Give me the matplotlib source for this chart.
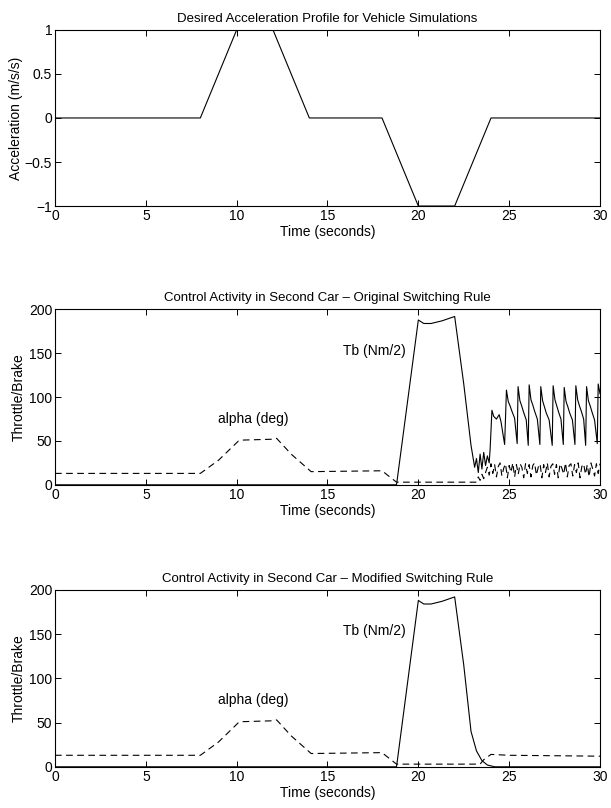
import matplotlib
matplotlib.use("Agg")
import matplotlib.pyplot as plt

plt.rcParams["font.family"] = ["Liberation Sans", "DejaVu Sans"]
plt.rcParams["font.size"] = 10

# ---- panel 1: desired acceleration profile ----
acc_t = [0, 8, 10, 12, 14, 18, 20, 22, 24, 30]
acc_v = [0, 0, 1, 1, 0, 0, -1, -1, 0, 0]

# ---- panel 2: original switching rule ----
alpha1_t = [0, 8.0, 9.0, 10.1, 10.3, 12.0, 12.2, 13.0, 14.1, 18.0, 18.8, 23.2,
            23.3, 23.4, 23.5, 23.6, 23.7, 23.8, 23.9,
            24.0, 24.1, 24.2, 24.3, 24.4, 24.5, 24.6, 24.7, 24.8, 24.9,
            25.0, 25.1, 25.2, 25.3, 25.4, 25.5, 25.6, 25.7, 25.8, 25.9,
            26.0, 26.1, 26.2, 26.3, 26.4, 26.5, 26.6, 26.7, 26.8, 26.9,
            27.0, 27.1, 27.2, 27.3, 27.4, 27.5, 27.6, 27.7, 27.8, 27.9,
            28.0, 28.1, 28.2, 28.3, 28.4, 28.5, 28.6, 28.7, 28.8, 28.9,
            29.0, 29.1, 29.2, 29.3, 29.4, 29.5, 29.6, 29.7, 29.8, 29.9, 30.0]
alpha1_v = [13, 13, 28, 50, 51, 52, 53, 35, 15, 16, 3, 3,
            9, 5, 12, 7, 14, 20, 11,
            24, 13, 23, 9, 21, 25, 10, 19, 24, 8,
            22, 14, 25, 9, 23, 12, 24, 20, 8, 24,
            13, 23, 9, 22, 25, 11, 20, 24, 8, 23,
            14, 25, 9, 21, 24, 12, 23, 8, 24, 19,
            12, 25, 9, 22, 24, 10, 23, 14, 25, 8,
            21, 24, 12, 23, 9, 25, 18, 10, 24, 13, 24]

tb1_t = [0, 18.8, 20.0, 20.3, 20.7, 21.3, 22.0, 22.5, 22.9, 23.1, 23.2, 23.3,
         23.4, 23.5, 23.6, 23.7, 23.8, 23.9, 23.95, 24.0, 24.05, 24.15, 24.3,
         24.45, 24.55, 24.75,
         24.85, 24.95, 25.05, 25.15, 25.3, 25.44,
         25.49, 25.59, 25.69, 25.79, 25.94, 26.05,
         26.10, 26.20, 26.30, 26.40, 26.55, 26.69,
         26.74, 26.84, 26.94, 27.04, 27.20, 27.37,
         27.42, 27.52, 27.62, 27.72, 27.85, 27.98,
         28.03, 28.13, 28.23, 28.33, 28.48, 28.62,
         28.67, 28.77, 28.87, 28.97, 29.10, 29.21,
         29.26, 29.36, 29.46, 29.56, 29.70, 29.85,
         29.90, 30.0]
tb1_v = [0, 0, 188, 184, 184, 187, 192, 115, 45, 20, 30, 14,
         35, 18, 37, 22, 33, 25, 40, 62, 85, 78, 75,
         80, 72, 46,
         108, 95, 90, 84, 76, 47,
         112, 96, 90, 83, 74, 45,
         114, 97, 91, 84, 75, 46,
         112, 96, 89, 82, 74, 45,
         113, 97, 90, 83, 75, 46,
         111, 95, 89, 82, 74, 46,
         113, 97, 90, 84, 75, 45,
         112, 96, 90, 83, 74, 47,
         115, 104]

# ---- panel 3: modified switching rule ----
alpha2_t = [0, 8.0, 9.0, 10.1, 10.3, 12.0, 12.2, 13.0, 14.1, 18.0, 18.8, 23.4,
            23.6, 24.0, 25.0, 30.0]
alpha2_v = [13, 13, 28, 50, 51, 52, 53, 35, 15, 16, 3, 3,
            8, 14, 13, 12]

tb2_t = [0, 18.8, 20.0, 20.3, 20.7, 21.3, 22.0, 22.5, 22.9, 23.2, 23.5, 23.8, 24.2, 30.0]
tb2_v = [0, 0, 188, 184, 184, 187, 192, 115, 40, 18, 7, 2, 0, 0]

titles = ["Desired Acceleration Profile for Vehicle Simulations",
          "Control Activity in Second Car \u2013 Original Switching Rule",
          "Control Activity in Second Car \u2013 Modified Switching Rule"]

fig = plt.figure(figsize=(6.11, 8.08), dpi=100)
left, width = 0.090, 0.892
ax1 = fig.add_axes([left, 0.745, width, 0.218])
ax2 = fig.add_axes([left, 0.400, width, 0.217])
ax3 = fig.add_axes([left, 0.051, width, 0.219])

dash = (0, (6, 4))

ax1.plot(acc_t, acc_v, color="k", lw=0.8)
ax1.set_ylim(-1, 1)
ax1.set_yticks([-1, -0.5, 0, 0.5, 1])
ax1.set_yticklabels(["\u22121", "\u22120.5", "0", "0.5", "1"])
ax1.set_ylabel("Acceleration (m/s/s)", labelpad=1)

for ax, at, av, tt, tv in [(ax2, alpha1_t, alpha1_v, tb1_t, tb1_v),
                           (ax3, alpha2_t, alpha2_v, tb2_t, tb2_v)]:
    ax.plot(at, av, color="k", lw=0.8, ls=dash)
    ax.plot(tt, tv, color="k", lw=0.8)
    ax.set_ylim(0, 200)
    ax.set_yticks([0, 50, 100, 150, 200])
    ax.set_ylabel("Throttle/Brake", labelpad=2)
    ax.text(17.6, 153, "Tb (Nm/2)", ha="center", va="center")
    ax.text(10.9, 75, "alpha (deg)", ha="center", va="center")

for ax, title in zip([ax1, ax2, ax3], titles):
    ax.set_xlim(0, 30)
    ax.set_xticks([0, 5, 10, 15, 20, 25, 30])
    ax.set_xlabel("Time (seconds)", labelpad=1.5)
    ax.set_title(title, fontsize=9.5, pad=6)
    ax.tick_params(direction="in", top=True, right=True, length=4, width=0.7, pad=2)
    for s in ax.spines.values():
        s.set_linewidth(0.8)

fig.savefig("out.png", dpi=100, facecolor="white")
